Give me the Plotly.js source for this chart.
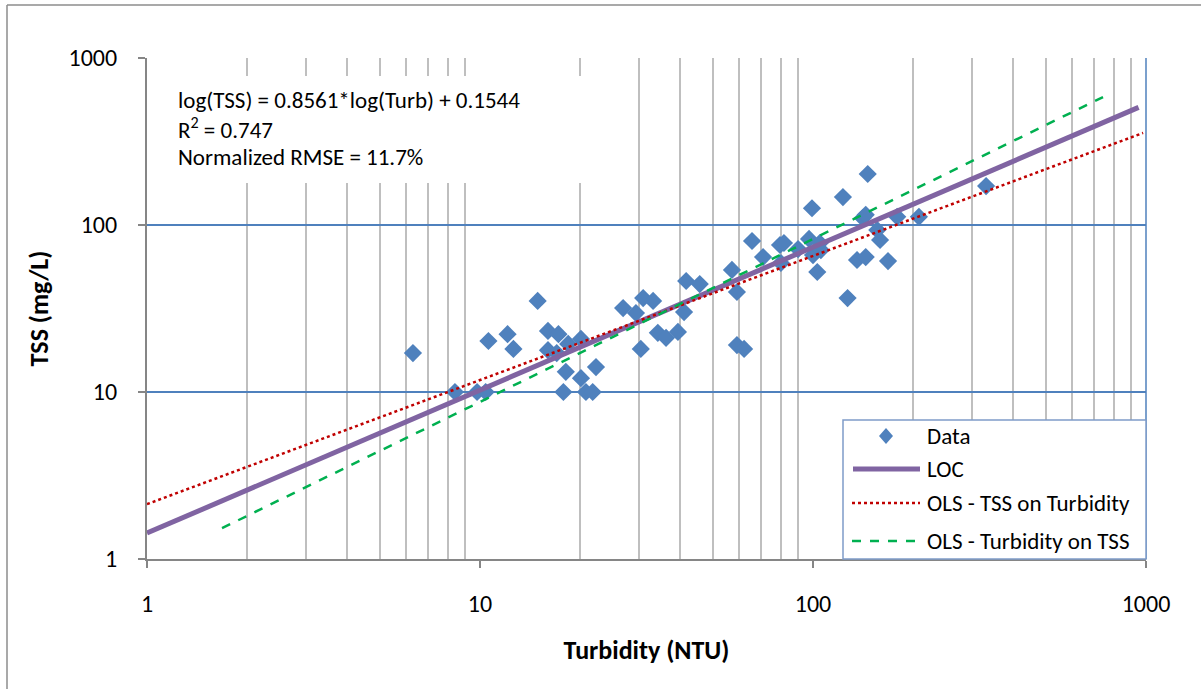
<!DOCTYPE html>
<html>
<head>
<meta charset="utf-8">
<script src="https://cdn.plot.ly/plotly-3.0.1.min.js"></script>
<style>html,body{margin:0;padding:0;background:#fff;}#chart{width:1201px;height:689px;}</style>
</head>
<body>
<div id="chart"></div>
<script>
// Data
var turbidity = [6.29, 8.41, 9.8, 10.4, 10.6, 12.1, 12.6, 14.9, 16.0, 17.2, 16.0, 17.0, 18.4, 20.1, 18.1, 17.8, 20.1, 20.8, 21.8, 22.3,
                 26.9, 29.4, 30.9, 33.1, 41.6, 45.7, 41.0, 34.2, 36.2, 39.3, 30.4, 57.1, 59.1, 59.1, 62.1, 65.6, 70.8, 79.6, 81.8, 80.1,
                 90.2, 97.3, 99.3, 100, 105.6, 104.8, 103, 127, 123, 135.6, 144, 141, 144, 146, 156, 159, 168, 179, 208, 331];
var tss = [17.1, 10, 10, 10, 20.2, 22.2, 18.1, 35.1, 23.2, 22.2, 17.8, 17.1, 19.4, 20.8, 13.2, 10, 12.1, 10, 10, 14.1,
           31.8, 29.7, 36.5, 35.1, 46.2, 44.3, 30.1, 22.6, 21.1, 22.9, 18.1, 53.8, 39.7, 19.1, 18.1, 80.2, 64.3, 75.9, 78.0, 59.2,
           71.8, 82.5, 126, 66.1, 70.8, 78, 52.3, 36.5, 147, 61.7, 64.3, 110, 115, 202, 93.3, 81.3, 60.8, 112, 112, 171];
var locX = [1, 950], locY = [1.43, 506];
var olsTssX = [1, 980], olsTssY = [2.13, 356];
var olsTurbX = [1.68, 743], olsTurbY = [1.53, 584];
var majorTicks = [1, 10, 100, 1000];
var majorLabels = ['1', '10', '100', '1000'];
var minorTicks = [2,3,4,5,6,7,8,9,20,30,40,50,60,70,80,90,200,300,400,500,600,700,800,900];
var legendNames = ['Data', 'LOC', 'OLS - TSS on Turbidity', 'OLS - Turbidity on TSS'];
var eqLines = ['log(TSS) = 0.8561*log(Turb) + 0.1544', 'R<sup>2</sup> = 0.747', 'Normalized RMSE = 11.7%'];

var FONT = 'Carlito, Lato, sans-serif';
var blue = '#4F81BD', purple = '#8064A2', red = '#C00000', green = '#00B050';

var traces = [
  {x: turbidity, y: tss, type: 'scatter', mode: 'markers', name: legendNames[0],
   marker: {symbol: 'diamond', size: 14, color: blue, line: {width: 0}}},
  {x: locX, y: locY, type: 'scatter', mode: 'lines', name: legendNames[1],
   line: {color: purple, width: 5}},
  {x: olsTssX, y: olsTssY, type: 'scatter', mode: 'lines', name: legendNames[2],
   line: {color: red, width: 2.5, dash: 'dot'}},
  {x: olsTurbX, y: olsTurbY, type: 'scatter', mode: 'lines', name: legendNames[3],
   line: {color: green, width: 2.5, dash: 'dash'}}
];

// pixel -> paper helpers (plot area 147..1146 x 58..559)
function px(v){ return (v - 147) / 999; }
function py(v){ return (559 - v) / 501; }

var shapes = [
  // outer chart border (left/top visible)
  {type: 'line', xref: 'paper', yref: 'paper', x0: px(7), x1: px(7), y0: py(689), y1: py(5),
   line: {color: '#8C8C8C', width: 1.5}, layer: 'below'},
  {type: 'line', xref: 'paper', yref: 'paper', x0: px(7), x1: px(1201), y0: py(5), y1: py(5),
   line: {color: '#8C8C8C', width: 1.5}, layer: 'below'},
  // equation text box (white, covers gridlines)
  {type: 'rect', xref: 'paper', yref: 'paper', x0: px(149), x1: px(583), y0: py(183), y1: py(76),
   line: {width: 0}, fillcolor: '#ffffff', layer: 'above'},
  // right plot border (blue)
  {type: 'line', xref: 'paper', yref: 'paper', x0: 1, x1: 1, y0: 0, y1: 1,
   line: {color: blue, width: 1.5}, layer: 'between'},
  // legend box
  {type: 'rect', xref: 'paper', yref: 'paper', x0: px(843), x1: px(1146), y0: py(559), y1: py(420),
   line: {color: '#7F9CC9', width: 1.5}, fillcolor: '#ffffff', layer: 'above'},
  // legend symbols
  {type: 'path', xref: 'paper', yref: 'paper', xsizemode: 'pixel', ysizemode: 'pixel',
   xanchor: px(886), yanchor: py(436), path: 'M0,-8 L7,0 L0,8 L-7,0 Z',
   fillcolor: blue, line: {width: 0}, layer: 'above'},
  {type: 'line', xref: 'paper', yref: 'paper', x0: px(853), x1: px(920), y0: py(469), y1: py(469),
   line: {color: purple, width: 5}, layer: 'above'},
  {type: 'line', xref: 'paper', yref: 'paper', x0: px(852), x1: px(920), y0: py(503), y1: py(503),
   line: {color: red, width: 2.5, dash: 'dot'}, layer: 'above'},
  {type: 'line', xref: 'paper', yref: 'paper', x0: px(852), x1: px(920), y0: py(541), y1: py(541),
   line: {color: green, width: 2.5, dash: 'dash'}, layer: 'above'}
];

var annotations = [];
var eqY = [100, 128, 157];
eqLines.forEach(function(t, i){
  annotations.push({text: t, xref: 'paper', yref: 'paper', x: px(176), y: py(eqY[i]),
    xanchor: 'left', yanchor: 'middle', showarrow: false, align: 'left',
    font: {family: FONT, size: 23, color: '#000'}});
});
var legY = [436, 469, 503, 541];
legendNames.forEach(function(t, i){
  annotations.push({text: t, xref: 'paper', yref: 'paper', x: px(925), y: py(legY[i]),
    xanchor: 'left', yanchor: 'middle', showarrow: false, align: 'left',
    font: {family: FONT, size: 23, color: '#000'}});
});

var layout = {
  width: 1201, height: 689,
  margin: {l: 147, r: 55, t: 58, b: 130},
  paper_bgcolor: '#ffffff', plot_bgcolor: '#ffffff',
  showlegend: false,
  font: {family: FONT, size: 20, color: '#000'},
  xaxis: {
    type: 'log', range: [0, 3], tickvals: majorTicks, ticktext: majorLabels,
    ticks: 'outside', ticklen: 7, tickwidth: 1.5, tickcolor: '#868686',
    showline: true, linecolor: '#868686', linewidth: 2,
    showgrid: false, zeroline: false,
    ticklabelstandoff: 15,
    tickfont: {family: FONT, size: 24, color: '#000'},
    minor: {tickvals: minorTicks, showgrid: true, gridcolor: '#BFBFBF', gridwidth: 2, ticks: ''},
    title: {text: '<b>Turbidity (NTU)</b>', standoff: 24, font: {family: FONT, size: 26, color: '#000'}},
    fixedrange: true
  },
  yaxis: {
    type: 'log', range: [0, 3], tickvals: majorTicks, ticktext: majorLabels,
    ticks: 'outside', ticklen: 7, tickwidth: 1.5, tickcolor: '#868686',
    showline: true, linecolor: '#868686', linewidth: 2,
    showgrid: true, gridcolor: blue, gridwidth: 1.5, zeroline: false,
    ticklabelstandoff: 16,
    tickfont: {family: FONT, size: 24, color: '#000'},
    title: {text: '<b>TSS (mg/L)</b>', standoff: 12, font: {family: FONT, size: 26, color: '#000'}},
    fixedrange: true
  },
  shapes: shapes,
  annotations: annotations
};

Plotly.newPlot('chart', traces, layout, {displayModeBar: false, staticPlot: true});
</script>
</body>
</html>
